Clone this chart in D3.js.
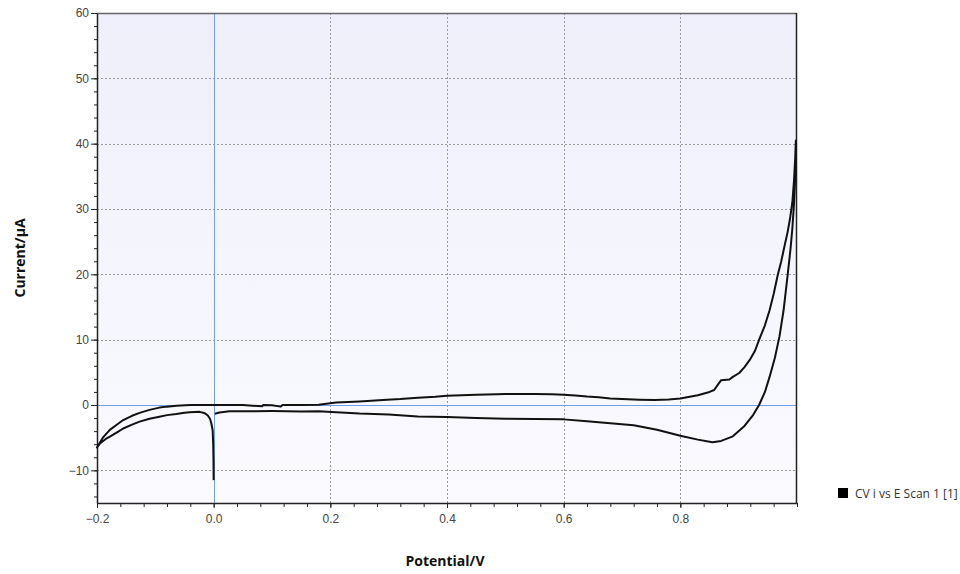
<!DOCTYPE html>
<html>
<head>
<meta charset="utf-8">
<script src="https://cdn.jsdelivr.net/npm/d3@7"></script>
<style>
  body { margin: 0; background: #fff; }
  svg { display: block; font-family: "Open Sans", "Noto Sans", sans-serif; }
  .tick text { fill: #444; font-size: 12px; }
</style>
</head>
<body>
<div id="chart"></div>
<script>
// CV scan: potential (V) and current (µA), in scan order
const potential = [
  0.002, 0.01, 0.027, 0.06, 0.1, 0.15, 0.18, 0.21, 0.25, 0.3, 0.35, 0.4, 0.45, 0.5, 0.55, 0.6,
  0.64, 0.68, 0.72, 0.76, 0.8, 0.83, 0.855, 0.87, 0.89, 0.91, 0.925, 0.935, 0.945, 0.953, 0.962,
  0.97, 0.977, 0.984, 0.989, 0.992, 0.995, 0.9975, 0.998,
  0.997, 0.995, 0.992, 0.988, 0.984, 0.979, 0.973, 0.967, 0.96, 0.953, 0.945, 0.936, 0.928, 0.919,
  0.91, 0.901, 0.89, 0.884, 0.87, 0.865, 0.858, 0.85, 0.83, 0.8, 0.78, 0.756, 0.73, 0.7, 0.68,
  0.66, 0.64, 0.62, 0.6, 0.58, 0.55, 0.5, 0.485, 0.45, 0.4, 0.38, 0.35, 0.32, 0.29, 0.25, 0.21,
  0.18, 0.15, 0.118, 0.115, 0.1, 0.085, 0.083, 0.05, 0.0, -0.04, -0.064, -0.08, -0.093, -0.11,
  -0.127, -0.14, -0.155, -0.165, -0.178, -0.19, -0.2,
  -0.195, -0.185, -0.178, -0.165, -0.155, -0.14, -0.127, -0.11, -0.093, -0.08, -0.064, -0.05,
  -0.041, -0.024, -0.015, -0.01, -0.0063, -0.004, -0.0017, -0.0008, -0.0003, 0.0
];
const current = [
  -1.35, -1.15, -0.95, -0.95, -0.93, -1.0, -0.95, -1.1, -1.3, -1.45, -1.75, -1.85, -2.0, -2.1, -2.15, -2.2,
  -2.5, -2.8, -3.1, -3.8, -4.7, -5.3, -5.7, -5.5, -4.8, -3.2, -1.5, 0, 2, 4.3, 7.2,
  10.5, 14.5, 19.9, 24, 27, 31, 36, 40.5,
  38, 34.5, 31, 28.5, 26.5, 24.5, 22, 19.9, 17, 14.5, 12.2, 10.2, 8.3, 6.9,
  5.8, 4.9, 4.3, 3.9, 3.8, 3.2, 2.3, 2.0, 1.5, 1.0, 0.85, 0.76, 0.8, 0.9, 1.0,
  1.2, 1.3, 1.45, 1.55, 1.65, 1.7, 1.7, 1.65, 1.55, 1.4, 1.25, 1.1, 0.9, 0.77, 0.55, 0.4,
  0.05, 0, 0, -0.25, -0.05, 0, -0.2, 0, 0, 0, -0.1, -0.25, -0.4, -0.75,
  -1.2, -1.65, -2.3, -2.95, -3.8, -5.0, -6.5,
  -5.9, -5.2, -4.85, -4.15, -3.6, -3.0, -2.55, -2.1, -1.8, -1.55, -1.38, -1.2,
  -1.12, -1.05, -1.25, -1.6, -2.1, -2.8, -3.9, -6, -8.5, -11.5
];

const xTicks = [-0.2, 0.0, 0.2, 0.4, 0.6, 0.8];
const yTicks = [-10, 0, 10, 20, 30, 40, 50, 60];
const seriesName = "CV i vs E Scan 1 [1]";

const width = 960;
const height = 574;
const margin = { top: 13, right: 163, bottom: 71, left: 97 };

const svg = d3.select("#chart")
    .append("svg")
    .attr("width", width)
    .attr("height", height);

const x = d3.scaleLinear()
    .domain([-0.2, 1.0])
    .range([margin.left, width - margin.right]);

const y = d3.scaleLinear()
    .domain([-15, 60])
    .range([height - margin.bottom, margin.top]);

// Background gradient of the plot area
const grad = svg.append("defs")
    .append("linearGradient")
    .attr("id", "bg")
    .attr("x1", 0).attr("y1", 0).attr("x2", 0).attr("y2", 1);
grad.append("stop").attr("offset", "0%").attr("stop-color", "#efeffb");
grad.append("stop").attr("offset", "100%").attr("stop-color", "#fafaff");

svg.append("rect")
    .attr("x", x.range()[0])
    .attr("y", y.range()[1])
    .attr("width", x.range()[1] - x.range()[0])
    .attr("height", y.range()[0] - y.range()[1])
    .attr("fill", "url(#bg)");

// Dotted grid lines (zero lines drawn in blue)
svg.append("g")
    .selectAll("line")
    .data(xTicks.filter(d => d !== 0))
    .join("line")
    .attr("x1", d => Math.round(x(d)) + 0.5)
    .attr("x2", d => Math.round(x(d)) + 0.5)
    .attr("y1", y.range()[1])
    .attr("y2", y.range()[0])
    .attr("stroke", "#9a9a9a")
    .attr("stroke-dasharray", "2,2");

svg.append("g")
    .selectAll("line")
    .data(yTicks.filter(d => d !== 0 && d !== 60))
    .join("line")
    .attr("x1", x.range()[0])
    .attr("x2", x.range()[1])
    .attr("y1", d => Math.round(y(d)) + 0.5)
    .attr("y2", d => Math.round(y(d)) + 0.5)
    .attr("stroke", "#9a9a9a")
    .attr("stroke-dasharray", "2,2");

svg.append("line")
    .attr("x1", Math.round(x(0)) + 0.5)
    .attr("x2", Math.round(x(0)) + 0.5)
    .attr("y1", y.range()[1])
    .attr("y2", y.range()[0])
    .attr("stroke", "#6f9ff0");

svg.append("line")
    .attr("x1", x.range()[0])
    .attr("x2", x.range()[1])
    .attr("y1", Math.round(y(0)) + 0.5)
    .attr("y2", Math.round(y(0)) + 0.5)
    .attr("stroke", "#6f9ff0");

// Top and right borders
svg.append("line")
    .attr("x1", x.range()[0]).attr("x2", x.range()[1])
    .attr("y1", y.range()[1] + 0.5).attr("y2", y.range()[1] + 0.5)
    .attr("stroke", "#666").attr("stroke-width", 1.5);

svg.append("line")
    .attr("x1", x.range()[1] - 0.5).attr("x2", x.range()[1] - 0.5)
    .attr("y1", y.range()[1]).attr("y2", y.range()[0])
    .attr("stroke", "#222").attr("stroke-width", 1.5);

// Minor ticks
const xMinor = d3.range(-0.2, 1.0001, 0.04).map(d => +d.toFixed(2));
const yMinor = d3.range(-14, 60.001, 2);

svg.append("g")
    .attr("transform", `translate(0,${y.range()[0]})`)
    .call(d3.axisBottom(x).tickValues(xMinor).tickSize(4).tickFormat(""))
    .call(g => g.select(".domain").remove())
    .call(g => g.selectAll("line").attr("stroke", "#222"));

svg.append("g")
    .attr("transform", `translate(${x.range()[0]},0)`)
    .call(d3.axisLeft(y).tickValues(yMinor).tickSize(3).tickFormat(""))
    .call(g => g.select(".domain").remove())
    .call(g => g.selectAll("line").attr("stroke", "#222"));

// Main axes
svg.append("g")
    .attr("transform", `translate(0,${y.range()[0]})`)
    .call(d3.axisBottom(x).tickValues(xTicks).tickSize(5).tickSizeOuter(0).tickPadding(6).tickFormat(d3.format(".1f")))
    .call(g => g.select(".domain").attr("stroke", "#222").attr("stroke-width", 1.5))
    .call(g => g.selectAll(".tick line").attr("stroke", "#222"));

svg.append("g")
    .attr("transform", `translate(${x.range()[0]},0)`)
    .call(d3.axisLeft(y).tickValues(yTicks).tickSize(6).tickSizeOuter(0).tickPadding(2))
    .call(g => g.select(".domain").attr("stroke", "#222").attr("stroke-width", 1.5))
    .call(g => g.selectAll(".tick line").attr("stroke", "#222"));

// Curve
const points = potential.map((v, i) => [v, current[i]]);

svg.append("path")
    .datum(points)
    .attr("fill", "none")
    .attr("stroke", "#111")
    .attr("stroke-width", 2)
    .attr("stroke-linejoin", "round")
    .attr("d", d3.line()
        .x(d => x(d[0]))
        .y(d => y(d[1])));

// Axis titles
svg.append("text")
    .attr("x", 445)
    .attr("y", 566)
    .attr("text-anchor", "middle")
    .attr("font-weight", "bold")
    .attr("font-size", 14)
    .attr("fill", "#111")
    .text("Potential/V");

svg.append("text")
    .attr("transform", `translate(25,258) rotate(-90)`)
    .attr("text-anchor", "middle")
    .attr("font-weight", "bold")
    .attr("font-size", 14)
    .attr("fill", "#111")
    .text("Current/µA");

// Legend
const legend = svg.append("g")
    .attr("transform", "translate(838,488)");

legend.append("rect")
    .attr("width", 10)
    .attr("height", 10)
    .attr("fill", "#000");

legend.append("text")
    .attr("x", 17)
    .attr("y", 10)
    .attr("font-size", 12)
    .attr("fill", "#333")
    .text(seriesName);
</script>
</body>
</html>
